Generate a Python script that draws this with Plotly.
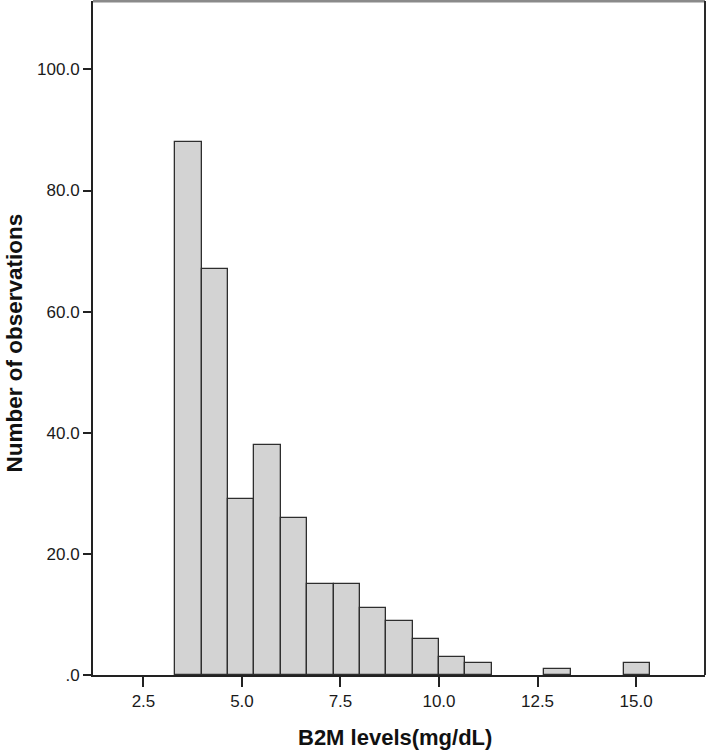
import plotly.graph_objects as go

# Histogram data
bin_start = 3.31
bin_width = 0.669
counts = [88, 67, 29, 38, 26, 15, 15, 11, 9, 6, 3, 2, 0, 0, 1, 0, 0, 2]

x_ticks = [2.5, 5.0, 7.5, 10.0, 12.5, 15.0]
x_tick_labels = ["2.5", "5.0", "7.5", "10.0", "12.5", "15.0"]
y_ticks = [0, 20, 40, 60, 80, 100]
y_tick_labels = [".0", "20.0", "40.0", "60.0", "80.0", "100.0"]

x_title = "B2M levels(mg/dL)"
y_title = "Number of observations"

centers = [bin_start + bin_width * (i + 0.5) for i in range(len(counts))]
line_widths = [1.3 if c > 0 else 0 for c in counts]

FONT = "Liberation Sans, Arial, sans-serif"

W, H = 709, 754
ML, MR, MT, MB = 93, 4, 1, 79
PW, PH = W - ML - MR, H - MT - MB

fig = go.Figure()
fig.add_trace(go.Bar(
    x=centers, y=counts, width=[bin_width] * len(counts),
    marker=dict(color="#d3d3d3", line=dict(color="#2e2e2e", width=line_widths)),
    hoverinfo="x+y",
))

fig.update_layout(
    width=W, height=H,
    margin=dict(l=ML, r=MR, t=MT, b=MB, pad=0, autoexpand=False),
    paper_bgcolor="white", plot_bgcolor="white",
    showlegend=False,
    font=dict(family=FONT, color="#111", size=17),
    bargap=0,
    xaxis=dict(
        range=[1.22, 16.75], tickmode="array", tickvals=x_ticks, ticktext=x_tick_labels,
        ticks="outside", ticklen=10, tickwidth=2, tickcolor="#222",
        showline=True, linecolor="#222", linewidth=2,
        showgrid=False, zeroline=False, automargin=False,
        tickfont=dict(size=17, family=FONT, color="#1a1a1a"),
    ),
    yaxis=dict(
        range=[0, 111.3], tickmode="array", tickvals=y_ticks, ticktext=y_tick_labels,
        ticks="outside", ticklen=8, tickwidth=2, tickcolor="#222",
        showline=True, linecolor="#222", linewidth=2,
        showgrid=False, zeroline=False, automargin=False,
        tickfont=dict(size=17, family=FONT, color="#1a1a1a"),
    ),
    annotations=[
        dict(text="<b>" + x_title + "</b>", xref="paper", yref="paper",
             x=(394.5 - ML) / PW, y=-(737 - (H - MB)) / PH,
             xanchor="center", yanchor="middle", showarrow=False,
             font=dict(size=22, family=FONT, color="#111")),
        dict(text="<b>" + y_title + "</b>", xref="paper", yref="paper",
             x=-(ML - 13.5) / PW, y=1 - (343 - MT) / PH,
             xanchor="center", yanchor="middle", showarrow=False, textangle=-90,
             font=dict(size=22.5, family=FONT, color="#111")),
    ],
    shapes=[
        dict(type="line", xref="paper", yref="paper", x0=0, x1=1, y0=1, y1=1,
             line=dict(color="#8a8a8a", width=3)),
        dict(type="line", xref="paper", yref="paper", x0=1, x1=1, y0=0, y1=1,
             line=dict(color="#2a2a2a", width=2)),
    ],
)

fig.write_html(
    "out.html",
    config={"displayModeBar": False},
    post_script="document.body.style.margin='0';document.body.style.padding='0';"
                "document.documentElement.style.overflow='hidden';",
)
